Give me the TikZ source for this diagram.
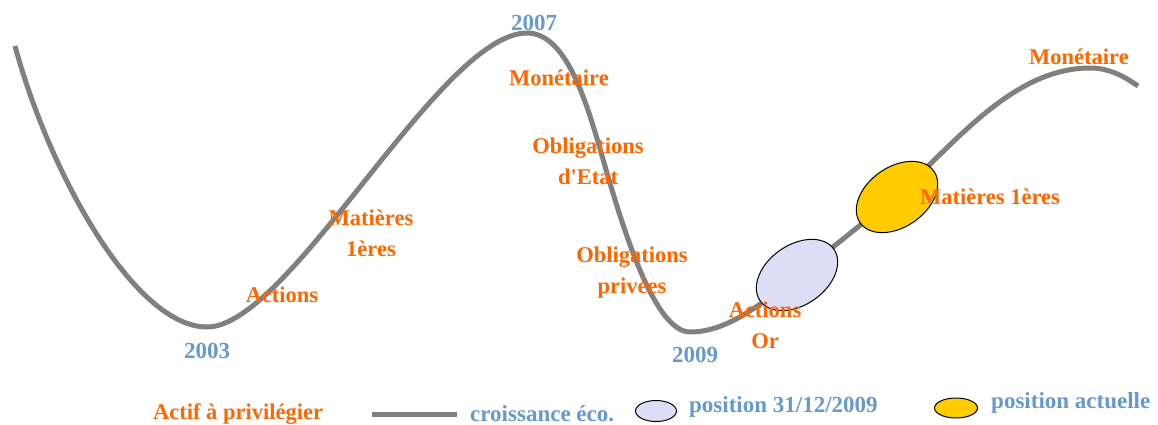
\documentclass[tikz,border=0pt]{standalone}
\usepackage{fontspec}
\setmainfont{Liberation Serif}
\usepackage{tikz}
\usetikzlibrary{positioning,shapes.geometric}

\definecolor{ecogray}{RGB}{128,128,128}
\definecolor{assetorange}{RGB}{255,102,0}
\definecolor{yearblue}{RGB}{102,153,204}
\definecolor{lavpos}{RGB}{221,221,245}
\definecolor{goldpos}{RGB}{255,204,0}

\tikzset{
    asset/.style={text=assetorange, font=\fontsize{22.5}{31}\selectfont\bfseries, align=center, inner sep=0pt},
    year/.style={text=yearblue, font=\fontsize{23}{25}\selectfont\bfseries, inner sep=0pt},
    econ/.style={draw=ecogray, line width=5pt},
    posbubble/.style={draw=black, line width=1pt, ellipse, inner sep=0pt}
}

\begin{document}
\begin{tikzpicture}[x=1pt, y=-1pt]
    \useasboundingbox (0,0) rectangle (1158,425);

    % economic cycle
    \coordinate (start) at (15,46);
    \coordinate (low03) at (207,327);
    \coordinate (top07) at (527,33);
    \coordinate (fall) at (607,173);
    \coordinate (low09) at (690,332);
    \coordinate (now09) at (797,276);
    \coordinate (nowpt) at (897,195);
    \coordinate (topnext) at (1090,68);
    \coordinate (stop) at (1138,86);
    \draw[econ] (start) .. controls (50,175) and (135,327) .. (low03)
        .. controls (290,327) and (440,33) .. (top07)
        .. controls (570,33) and (590,115) .. (fall)
        .. controls (624,231) and (655,332) .. (low09)
        .. controls (725,332) and (757,308) .. (now09)
        .. controls (830,249) and (865,222) .. (nowpt)
        .. controls (950,150) and (1010,68) .. (topnext)
        .. controls (1110,68) and (1125,77) .. (stop);

    % positions
    \node[posbubble, fill=lavpos, rotate=35, minimum width=90, minimum height=60] (pos09) at (797,275) {};
    \node[posbubble, fill=goldpos, rotate=35, minimum width=90, minimum height=60] (posnow) at (897,197) {};

    % years
    \node[year] (y2003) at (207,351) {2003};
    \node[year] (y2007) at (534,23) {2007};
    \node[year] (y2009) at (695,355) {2009};

    % assets along the cycle
    \node[asset] (act1) at (282,295) {Actions};
    \node[asset] (mat1) at (371,233) {Matières\\1ères};
    \node[asset] (mon1) at (559,78) {Monétaire};
    \node[asset] (oblE) at (588,161) {Obligations\\d\textquotesingle Etat};
    \node[asset] (oblP) at (632,273) {Obligations\\privées};
    \node[asset] (actOr) at (765,325) {Actions\\Or};
    \node[asset] (mat2) at (990,197) {Matières 1ères};
    \node[asset] (mon2) at (1079,57) {Monétaire};

    % legend
    \node[asset] (legAsset) at (238,414) {Actif à privilégier};
    \coordinate (legA) at (372,414);
    \coordinate (legB) at (457,414);
    \draw[econ] (legA) -- (legB);
    \node[year, anchor=west] (legEco) at (470,414) {croissance éco.};
    \node[posbubble, fill=lavpos, minimum width=41, minimum height=21] (leg09) at (656,411) {};
    \node[year, anchor=west] (legPos09) at (689,407) {position 31/12/2009};
    \node[posbubble, fill=goldpos, minimum width=43, minimum height=20] (legNow) at (956,408) {};
    \node[year, anchor=west] (legPosNow) at (991,403) {position actuelle};
\end{tikzpicture}
\end{document}
